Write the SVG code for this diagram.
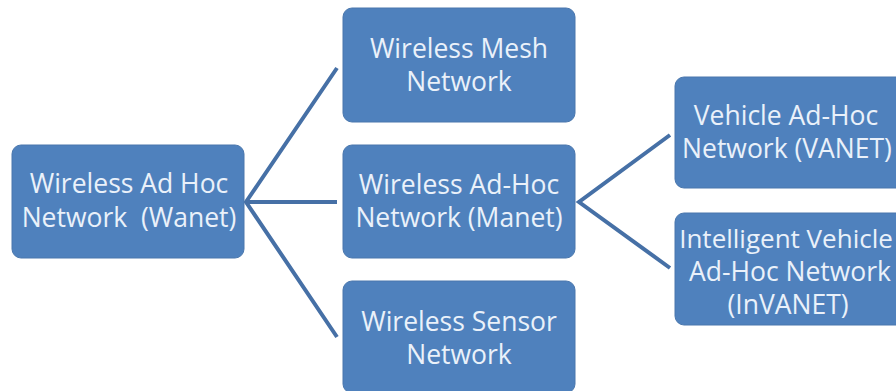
<svg xmlns="http://www.w3.org/2000/svg" width="896" height="391" viewBox="0 0 896 391">
<style>
.box{fill:#4f81bd;stroke:#4a77ad;stroke-width:1}
.t{font-family:"Open Sans","Liberation Sans",sans-serif;font-size:26.5px;fill:#eaf1fa;text-anchor:middle;white-space:pre}
.c{stroke:#4670a6;stroke-width:4;fill:none;stroke-linecap:butt}
</style>
<rect width="896" height="391" fill="#ffffff"/>
<g id="connectors">
<path class="c" d="M337 68 L246 202 L337 337 M246 202 L337 202"/>
<path class="c" d="M670 135 L579 202 L670 268"/>
</g>
<g id="wanet">
<rect class="box" x="12" y="145" width="232" height="113" rx="9"/>
<text class="t" x="129" y="193">Wireless Ad Hoc</text>
<text class="t" x="129" y="227" xml:space="preserve">Network  (Wanet)</text>
</g>
<g id="mesh">
<rect class="box" x="343" y="8" width="232" height="114" rx="9"/>
<text class="t" x="459" y="58">Wireless Mesh</text>
<text class="t" x="459" y="91">Network</text>
</g>
<g id="manet">
<rect class="box" x="343" y="145" width="232" height="113" rx="9"/>
<text class="t" x="459" y="194">Wireless Ad-Hoc</text>
<text class="t" x="459" y="227">Network (Manet)</text>
</g>
<g id="sensor">
<rect class="box" x="343" y="281" width="232" height="112" rx="9"/>
<text class="t" x="459" y="331">Wireless Sensor</text>
<text class="t" x="459" y="364">Network</text>
</g>
<g id="vanet">
<rect class="box" x="675" y="77" width="240" height="111" rx="9"/>
<text class="t" x="786" y="125">Vehicle Ad-Hoc</text>
<text class="t" x="787" y="158">Network (VANET)</text>
</g>
<g id="invanet">
<rect class="box" x="675" y="213" width="240" height="112" rx="9"/>
<text class="t" x="786" y="248" style="font-size:26px">Intelligent Vehicle</text>
<text class="t" x="790" y="281">Ad-Hoc Network</text>
<text class="t" x="788" y="314">(InVANET)</text>
</g>
</svg>
